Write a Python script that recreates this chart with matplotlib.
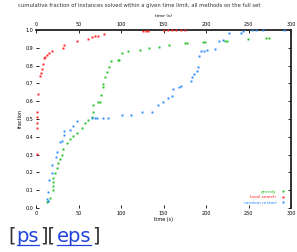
import matplotlib
matplotlib.use("Agg")
import matplotlib.pyplot as plt
from matplotlib.lines import Line2D

# values (x = time, y = fraction solved)
red_x = [1, 1, 1, 1, 1, 2.4, 4.7, 5.9, 7, 8.2, 9.4, 10.6, 13, 15.3, 18.8,
         31.8, 33, 48, 61, 66, 69, 73, 80, 126, 129, 132,
         150, 155, 160, 165, 170, 175]
red_y = [0.305, 0.45, 0.48, 0.51, 0.54, 0.64, 0.74, 0.76, 0.78, 0.81, 0.84, 0.85, 0.86, 0.87, 0.88,
         0.90, 0.915, 0.94, 0.95, 0.96, 0.966, 0.966, 0.98, 0.995, 0.995, 0.995,
         1.0, 1.0, 1.0, 1.0, 1.0, 1.0]

green_x = [12.6, 14.1, 16.5, 19.6, 19.6, 19.6, 20, 22.4, 24.4, 25.9, 28.2, 30.2, 31.8, 36, 40,
           43.5, 47.9, 53.8, 57.6, 61, 65.5, 67, 67, 73, 75, 76.5, 78.5, 78.5, 81, 83, 86, 88,
           96, 97.6, 101, 108, 122, 133, 145, 156, 175, 178, 196, 199, 222, 225, 249, 271, 274]
green_y = [0.036, 0.041, 0.056, 0.10, 0.125, 0.147, 0.17, 0.198, 0.226, 0.254, 0.277, 0.30, 0.333, 0.367, 0.39,
           0.407, 0.424, 0.452, 0.48, 0.497, 0.514, 0.54, 0.58, 0.593, 0.593, 0.633, 0.68, 0.695, 0.734, 0.763, 0.79, 0.825,
           0.83, 0.83, 0.87, 0.88, 0.887, 0.898, 0.904, 0.915, 0.927, 0.927, 0.932, 0.932, 0.938, 0.938, 0.95, 0.955, 0.955]

blue_x = [12.6, 14.1, 13.8, 15.6, 18.5, 19.2, 23.5, 24.4, 28.2, 30.2, 33.3, 33.3, 40, 43.9, 47.9,
          65.9, 69, 71.8, 78.8, 84.7, 100.8, 111.8, 124.4, 136.5, 143.5, 149, 155.3, 160, 161,
          168, 171, 182, 184, 186, 189, 190.6, 192, 194, 198, 201, 210.6, 215, 220, 227, 241,
          243.5, 254, 259, 267, 292]
blue_y = [0.05, 0.041, 0.09, 0.158, 0.198, 0.243, 0.288, 0.316, 0.373, 0.375, 0.408, 0.431, 0.44, 0.459, 0.49,
          0.503, 0.503, 0.503, 0.508, 0.508, 0.52, 0.525, 0.537, 0.542, 0.578, 0.593, 0.616, 0.629, 0.667,
          0.68, 0.685, 0.712, 0.734, 0.751, 0.77, 0.79, 0.855, 0.88, 0.88, 0.887, 0.893, 0.938, 0.943, 0.983, 0.983,
          0.994, 1.0, 1.0, 1.0, 1.0]

series_labels = ["greedy", "local search", "random restart"]
x_ticks = [0, 50, 100, 150, 200, 250, 300]
y_ticks = [0, 0.1, 0.2, 0.3, 0.4, 0.5, 0.6, 0.7, 0.8, 0.9, 1.0]

fig = plt.figure(figsize=(2.97, 2.52), dpi=100)
ax = fig.add_axes([36 / 297, 44 / 252, 255 / 297, 178 / 252])

ms = 1.4
ax.plot(green_x, green_y, ls="none", marker="s", ms=ms, mew=0, color="#22c022",
        label=series_labels[0], clip_on=False, zorder=5)
ax.plot(red_x, red_y, ls="none", marker="s", ms=ms, mew=0, color="#ff2020",
        label=series_labels[1], clip_on=False, zorder=5)
ax.plot(blue_x, blue_y, ls="none", marker="s", ms=ms, mew=0, color="#2a8cff",
        label=series_labels[2], clip_on=False, zorder=5)

ax.set_xlim(0, 300)
ax.set_ylim(0, 1)
ax.set_xticks(x_ticks)
ax.set_yticks(y_ticks)
ax.tick_params(direction="in", length=2, width=0.6, labelsize=3.5, pad=2,
               top=True, right=True, labeltop=True, colors="black")

for side in ["left", "bottom"]:
    ax.spines[side].set_visible(False)
for side in ["top", "right"]:
    ax.spines[side].set_linewidth(1.3)
    ax.spines[side].set_color("#222222")

ax.set_xlabel("time (s)", fontsize=3.5, labelpad=1)
ax.set_ylabel("fraction", fontsize=3.5, labelpad=2)
fig.text(18 / 297, 1 - 6 / 252,
         "cumulative fraction of instances solved within a given time limit, all methods on the full set",
         fontsize=3.8, color="#333333", va="center", ha="left")
fig.text(0.55, 1 - 16 / 252, "time (s)", fontsize=3.2, ha="center", va="center")

leg = ax.legend(loc="lower right", fontsize=3.2, frameon=False, markerfirst=False,
                labelcolor="linecolor", handlelength=2, handletextpad=0.6,
                borderaxespad=0.3, labelspacing=0.3)

# links under the chart, laid out one after another
fig.canvas.draw()
renderer = fig.canvas.get_renderer()
parts = [("[", "#333333", False), ("ps", "#2244dd", True), ("][", "#333333", False),
         ("eps", "#2244dd", True), ("]", "#333333", False)]
xpos = 8 / 297
base = 0.04
for s, c, underline in parts:
    t = fig.text(xpos, base, s, fontsize=14, color=c, va="baseline")
    bb = t.get_window_extent(renderer).transformed(fig.transFigure.inverted())
    if underline:
        fig.add_artist(Line2D([bb.x0, bb.x1], [base - 0.012, base - 0.012], color=c, lw=0.9))
    xpos = bb.x1 + 0.004

fig.savefig("out.png", dpi=100)
